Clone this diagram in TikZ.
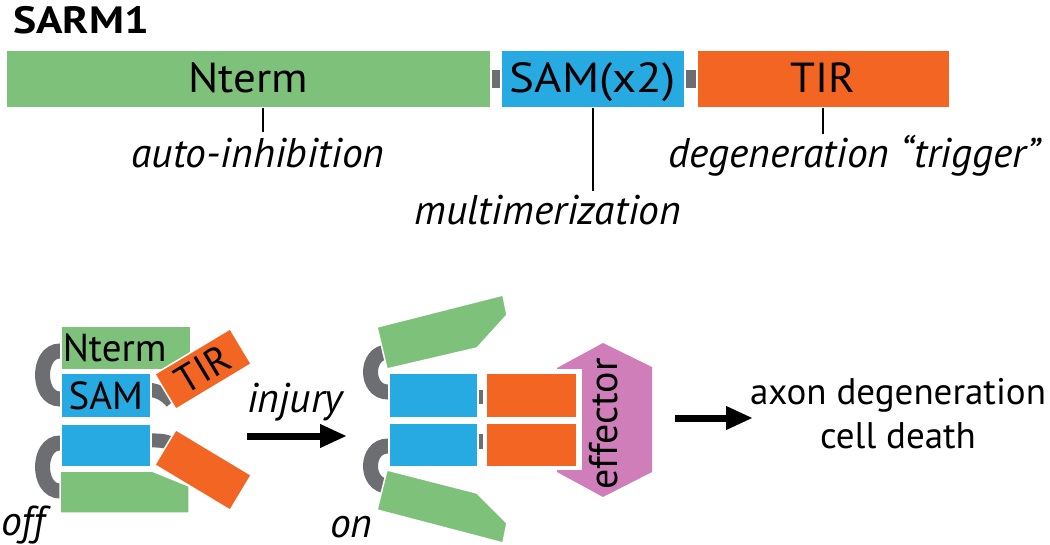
\documentclass[tikz,border=0pt]{standalone}
\usepackage{fontspec}
\setmainfont{PT Sans}
\usepackage{xcolor}
\usetikzlibrary{arrows.meta}
\definecolor{ntgreen}{HTML}{7EC17B}
\definecolor{samblue}{HTML}{27AAE1}
\definecolor{tirorange}{HTML}{F26522}
\definecolor{effpink}{HTML}{CF7EB9}
\definecolor{lnkgray}{HTML}{6D6E71}
\newcommand{\fsz}[1]{\fontsize{#1}{#1}\selectfont}

\begin{document}
\begin{tikzpicture}[x=1pt,y=-1pt,
    dom/.style={draw=white, line width=1.5, inner sep=0pt, font=\fsz{39},
      text height=32, text depth=5},
    nterm/.style={dom, fill=ntgreen},
    sam/.style={dom, fill=samblue},
    tir/.style={dom, fill=tirorange},
    barfont/.style={font=\fsz{42}\addfontfeature{FakeStretch=1.07}},
    hinge/.style={draw=lnkgray, line width=15},
    lbl/.style={font=\fsz{41.5}\itshape, inner sep=0pt},
    txt/.style={font=\fsz{37}, inner sep=0pt},
    bigarrow/.style={line width=7, -{Triangle[length=27,width=22]}}]
  \useasboundingbox (0,0) rectangle (1050,545);
  \node[anchor=north west, inner sep=0pt, font=\fsz{38}\bfseries\addfontfeature{FakeStretch=1.15}] (title) at (13,6) {SARM1};
  % domain bar
  \fill[lnkgray] (488,70) rectangle (698,88);
  \node[nterm, barfont, minimum width=485, minimum height=57, anchor=north west] (bnt) at (5,50) {Nterm};
  \node[sam, minimum width=184, minimum height=57, anchor=north west,
    font=\fsz{42}\addfontfeature{FakeStretch=1.12}] (bsam) at (500,50) {SAM(x2)};
  \node[tir, barfont, minimum width=253, minimum height=57, anchor=north west] (btir) at (696,50) {TIR};
  % what each part does
  \node[lbl, anchor=base] (lauto) at (258,168) {auto-inhibition};
  \node[lbl, anchor=base] (lmulti) at (548,225) {multimerization};
  \node[lbl, anchor=base] (ltrig) at (854,168) {degeneration “trigger”};
  \coordinate (tauto) at (263,132);
  \coordinate (tmulti) at (593,191);
  \coordinate (ttrig) at (823,134);
  \draw[line width=1.2] (tauto |- bnt.south) -- (tauto);
  \draw[line width=1.2] (tmulti |- bsam.south) -- (tmulti);
  \draw[line width=1.2] (ttrig |- btir.south) -- (ttrig);

  % off state
  \draw[hinge] (75,351) -- (60,351) .. controls (36.7,351) and (36.7,399) .. (60,399) -- (75,399);
  \draw[hinge] (75,443) -- (60,443) .. controls (36.7,443) and (36.7,491) .. (60,491) -- (75,491);
  \draw[line width=14, lnkgray] (140,389) .. controls (158,389) and (166,395) .. (172,402);
  \draw[line width=14, lnkgray] (140,441) .. controls (156,440) and (164,440) .. (172,444);
  \node[nterm, minimum width=130, minimum height=43, anchor=north west,
    text width=126, align=left] (ont) at (60,326) {Nterm};
  \node[sam, minimum width=90, minimum height=44, anchor=north west] (osam1) at (60,373) {SAM};
  \node[sam, minimum width=90, minimum height=43, anchor=north west] (osam2) at (60,423) {};
  \filldraw[ntgreen, draw=white, line width=1.5] (60,471) -- (152,471) -- (189,486) -- (189,513) -- (60,513) -- cycle;
  \node[tir, minimum width=88, minimum height=41, rotate=31] (otir1) at (203,369) {TIR};
  \node[tir, minimum width=88, minimum height=41, rotate=-31] (otir2) at (203,470) {};
  \node[lbl, anchor=base west] (loff) at (1,535) {off};

  % injury
  \coordinate (inja) at (247,436);
  \coordinate (injb) at (347,436);
  \draw[bigarrow] (inja) -- (injb);
  \node[lbl, anchor=base] (linj) at (295,412) {injury};

  % on state
  \draw[hinge] (400,352) -- (388,352) .. controls (364.7,352) and (364.7,392) .. (388,392) -- (400,392);
  \draw[hinge] (400,446) -- (388,446) .. controls (364.7,446) and (364.7,486) .. (388,486) -- (400,486);
  \filldraw[ntgreen, draw=white, line width=1.5] (377,327) -- (503,295) -- (507,315) -- (477,348) -- (387,369) -- cycle;
  \filldraw[ntgreen, draw=white, line width=1.5] (387,470) -- (477,493) -- (507,523) -- (503,543) -- (377,510) -- cycle;
  \fill[lnkgray] (475,390) rectangle (487,404);
  \fill[lnkgray] (475,434) rectangle (487,449);
  \fill[effpink] (557,368) -- (603,343) -- (652,367) -- (652,472) -- (603,497) -- (557,472) -- cycle;
  \fill[white] (483,369) rectangle (582,470);
  \node[sam, minimum width=89, minimum height=44, anchor=north west] (nsam1) at (388,373) {};
  \node[sam, minimum width=89, minimum height=44, anchor=north west] (nsam2) at (388,422) {};
  \node[tir, minimum width=91, minimum height=44, anchor=north west] (ntir1) at (485,373) {};
  \node[tir, minimum width=91, minimum height=44, anchor=north west] (ntir2) at (485,422) {};
  \node[inner sep=0pt, font=\fsz{40}, rotate=90, anchor=base] (eff) at (617,424) {effector};
  \node[lbl, anchor=base west] (lon) at (330,537) {on};

  % outcome
  \coordinate (outa) at (675,418);
  \coordinate (outb) at (753,418);
  \draw[bigarrow] (outa) -- (outb);
  \node[txt, anchor=base] (res1) at (898,404) {axon degeneration};
  \node[txt, anchor=base] (res2) at (898,448) {cell death};
\end{tikzpicture}
\end{document}
